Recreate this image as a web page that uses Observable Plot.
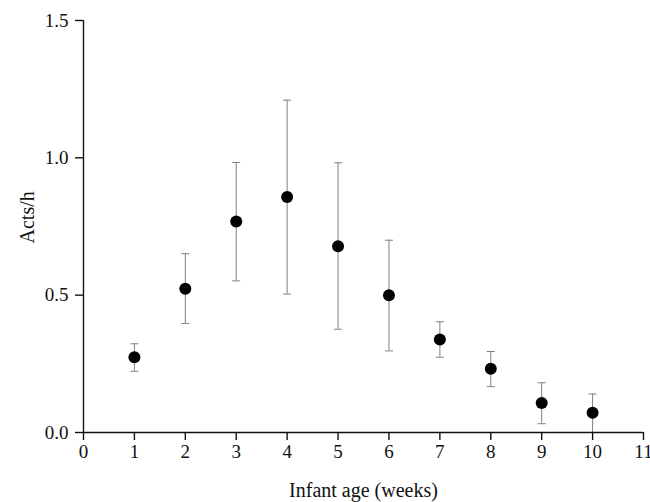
<!DOCTYPE html>
<html>
<head>
<meta charset="utf-8">
<script src="https://cdn.jsdelivr.net/npm/d3@7"></script>
<script src="https://cdn.jsdelivr.net/npm/@observablehq/plot@0.6"></script>
<style>
  html, body { margin: 0; padding: 0; background: #fff; }
</style>
</head>
<body>
<div id="chart"></div>
<script>
const weeks = [1, 2, 3, 4, 5, 6, 7, 8, 9, 10];
const means = [0.274, 0.523, 0.768, 0.857, 0.678, 0.500, 0.339, 0.232, 0.107, 0.072];
const upper = [0.323, 0.651, 0.983, 1.210, 0.982, 0.700, 0.403, 0.295, 0.181, 0.140];
const lower = [0.223, 0.397, 0.552, 0.504, 0.376, 0.297, 0.274, 0.167, 0.032, 0.000];
const xTicks = [0, 1, 2, 3, 4, 5, 6, 7, 8, 9, 10, 11];
const yTicks = [0, 0.5, 1.0, 1.5];
const xLabel = "Infant age (weeks)";
const yLabel = "Acts/h";

const data = weeks.map((w, i) => ({week: w, mean: means[i], hi: upper[i], lo: lower[i]}));

const capSymbol = {
  draw(context, size) {
    const w = 4;
    context.moveTo(-w, 0);
    context.lineTo(w, 0);
  }
};

const serif = "'Liberation Serif', 'Times New Roman', serif";

const chart = Plot.plot({
  width: 650,
  height: 502,
  marginLeft: 83,
  marginRight: 7,
  marginTop: 20,
  marginBottom: 70,
  style: {fontFamily: serif, fontSize: "19px", color: "#111"},
  x: {domain: [0, 11]},
  y: {domain: [0, 1.5]},
  marks: [
    Plot.ruleX(data, {x: "week", y1: "lo", y2: "hi", stroke: "#808080", strokeWidth: 1}),
    Plot.dot(data, {x: "week", y: "hi", symbol: capSymbol, stroke: "#808080", strokeWidth: 1, r: 4}),
    Plot.dot(data, {x: "week", y: "lo", symbol: capSymbol, stroke: "#808080", strokeWidth: 1, r: 4}),
    Plot.dot(data, {x: "week", y: "mean", r: 6, fill: "#000", stroke: "none"}),
    Plot.ruleY([0], {stroke: "#111", strokeWidth: 1.4}),
    Plot.ruleX([0], {stroke: "#111", strokeWidth: 1.4}),
    Plot.axisX({ticks: xTicks, tickSize: 8, tickPadding: 4, fontSize: 19, label: null, stroke: "#111", strokeWidth: 1.4}),
    Plot.axisY({ticks: yTicks, tickSize: 8, tickPadding: 7, fontSize: 19, tickFormat: d3.format(".1f"), label: null, stroke: "#111", strokeWidth: 1.4}),
    Plot.text([xLabel], {frameAnchor: "bottom", dy: 58, text: d => d, fontSize: 20, lineAnchor: "middle", fill: "#111"}),
    Plot.text([yLabel], {frameAnchor: "left", dx: -56, dy: 17, text: d => d, fontSize: 20, rotate: -90, lineAnchor: "middle", fill: "#111"})
  ]
});

document.getElementById("chart").appendChild(chart);
</script>
</body>
</html>
